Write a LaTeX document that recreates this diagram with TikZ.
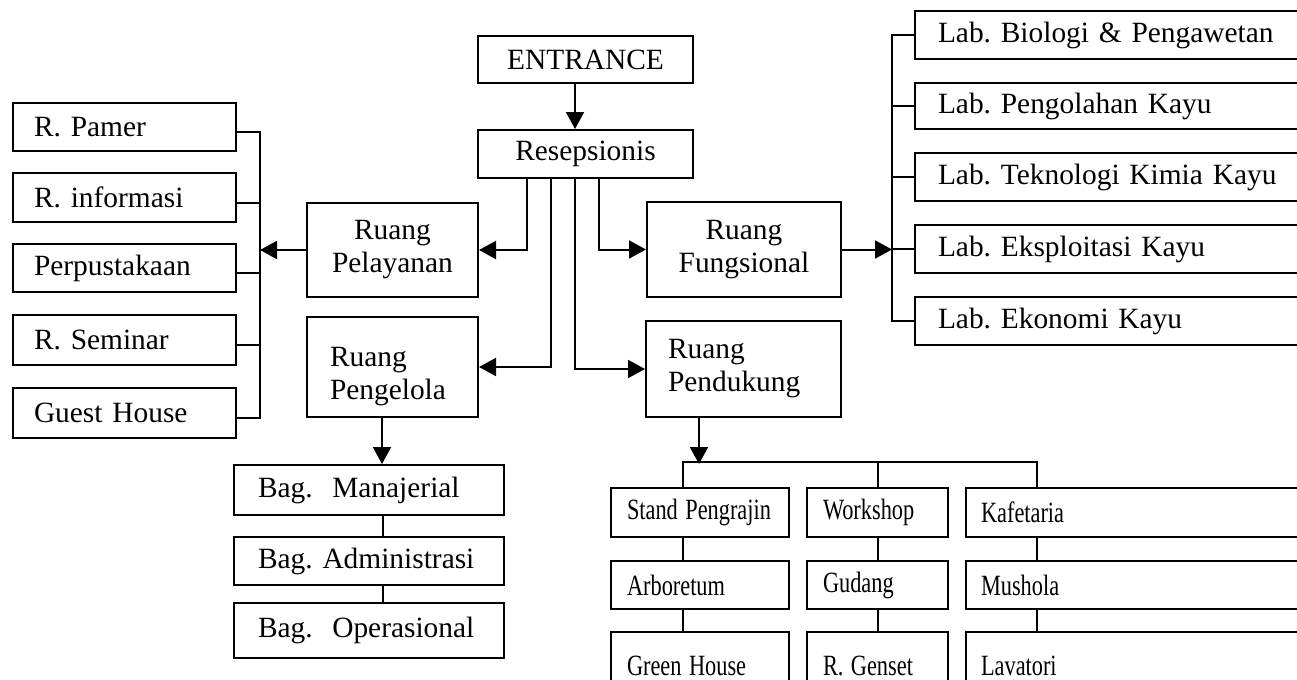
\documentclass[tikz,border=0pt]{standalone}
\usepackage{fontspec}
\usepackage{graphicx}
\setmainfont{Liberation Serif}
\usetikzlibrary{arrows.meta}
\newcommand{\narrowtext}[1]{\scalebox{0.76}[1]{#1}}

\begin{document}
\frenchspacing
\begin{tikzpicture}[
      x=0.5pt, y=-0.5pt,
      font=\fontsize{14.7}{16.5}\selectfont,
      box/.style={draw, line width=1pt, inner sep=0pt, align=center},
      lbox/.style={draw, line width=1pt, anchor=west, align=left, inner ysep=0pt},
      link/.style={line width=1pt},
      flow/.style={-{Triangle[length=8.5pt,width=9pt]}, line width=1pt}
    ]
    \clip (0,0) rectangle (1297,680);

    % --- Entrance and reception -----------------------------------------------
    \node[box, minimum width=107.5pt, minimum height=23.5pt] (entr) at (585.5,59.5)
      {ENTRANCE};
    \node[box, minimum width=107.5pt, minimum height=24pt] (resep) at (585.5,154)
      {Resepsionis};
    \draw[flow] ([xshift=-5.25pt]entr.south) -- ([xshift=-5.25pt]resep.north);

    % --- Main room groups -----------------------------------------------------
    \node[box, minimum width=85.5pt, minimum height=47pt] (pelay) at (392.5,250)
      {Ruang\\Pelayanan};
    \node[box, minimum width=97pt, minimum height=47.5pt] (fungs) at (744,249.5)
      {Ruang\\Fungsional};
    \node[box, align=left, inner xsep=11.5pt, text width=62.5pt, text depth=10pt,
          minimum height=50pt] (pengel) at (392.5,367)
      {Ruang\\Pengelola};
    \node[box, align=left, inner xsep=11pt, text width=75.5pt,
          minimum height=48pt] (penduk) at (743.5,369)
      {Ruang\\Pendukung};

    \draw[flow] ([xshift=-29.25pt]resep.south) |- (pelay.east);
    \draw[flow] ([xshift=-17.25pt]resep.south) |- (pengel.east);
    \draw[flow] ([xshift=-5.25pt]resep.south) |- (penduk.west);
    \draw[flow] ([xshift=6.75pt]resep.south) |- (fungs.west);

    % --- Service rooms (left) -------------------------------------------------
    \node[lbox, inner xsep=10.5pt, text width=90.5pt, minimum height=24pt]
      (pamer) at (12,127) {R. Pamer};
    \node[lbox, inner xsep=10.5pt, text width=90.5pt, minimum height=24.5pt]
      (info) at (12,197.5) {R. informasi};
    \node[lbox, inner xsep=10.5pt, text width=90.5pt, minimum height=24pt]
      (perpus) at (12,268) {Perpustakaan};
    \node[lbox, inner xsep=10.5pt, text width=90.5pt, minimum height=25pt]
      (seminar) at (12,340) {R. Seminar};
    \node[lbox, inner xsep=10.5pt, text width=90.5pt, minimum height=25pt]
      (guest) at (12,413) {Guest House};

    \coordinate (rbus) at ([xshift=11.5pt]perpus.east);
    \draw[link] ([yshift=-2.5pt]pamer.east) -- ++(23,0) |- ([yshift=-2.5pt]guest.east);
    \foreach \b in {info,perpus,seminar}
      \draw[link] ([yshift=-2.5pt]\b.east) -- ++(23,0);
    \draw[flow] (pelay.west) -- (pelay.west -| rbus);

    % --- Laboratories (right) -------------------------------------------------
    \node[lbox, inner xsep=11.5pt, text width=180pt, minimum height=24pt]
      (lab1) at (914,35) {Lab. Biologi \& Pengawetan};
    \node[lbox, inner xsep=11.5pt, text width=180pt, minimum height=23pt]
      (lab2) at (914,106) {Lab. Pengolahan Kayu};
    \node[lbox, inner xsep=11.5pt, text width=180pt, minimum height=24pt]
      (lab3) at (914,177) {Lab. Teknologi Kimia Kayu};
    \node[lbox, inner xsep=11.5pt, text width=180pt, minimum height=24pt]
      (lab4) at (914,249) {Lab. Eksploitasi Kayu};
    \node[lbox, inner xsep=11.5pt, text width=180pt, minimum height=24pt]
      (lab5) at (914,321) {Lab. Ekonomi Kayu};

    \coordinate (lbus) at ([xshift=-11pt]lab4.west);
    \draw[link] (lab1.west) -- ++(-22,0) |- (lab5.west);
    \foreach \i in {2,3,4}
      \draw[link] (lab\i.west) -- ++(-22,0);
    \draw[flow] (fungs.east) -- (fungs.east -| lbus);

    % --- Management sections --------------------------------------------------
    \node[lbox, inner xsep=12pt, text width=111pt, minimum height=25pt]
      (manaj) at (233,490) {Bag.\ \ Manajerial};
    \node[lbox, inner xsep=12pt, text width=111pt, minimum height=24pt]
      (admin) at (233,561) {Bag.\ Administrasi};
    \node[lbox, inner xsep=12pt, text width=111pt, minimum height=27.5pt]
      (oper) at (233,630.5) {Bag.\ \ Operasional};

    \draw[flow] ([xshift=-5.25pt]pengel.south) -- ([xshift=-5.25pt]pengel.south |- manaj.north);
    \draw[link] ([xshift=7pt]manaj.south) -- ([xshift=7pt]admin.north);
    \draw[link] ([xshift=7pt]admin.south) -- ([xshift=7pt]oper.north);

    % --- Support facilities ---------------------------------------------------
    \node[lbox, inner xsep=8pt, text width=73pt, minimum height=24.5pt]
      (stand) at (610,512.5) {\narrowtext{Stand Pengrajin}};
    \node[lbox, inner xsep=8pt, text width=73pt, minimum height=24pt]
      (arbo) at (610,585) {\narrowtext{Arboretum}};
    \node[lbox, inner xsep=8pt, text width=73pt, minimum height=34pt]
      (green) at (610,666) {\narrowtext{Green House}};

    \node[lbox, inner xsep=8pt, text width=54.5pt, minimum height=24.5pt]
      (work) at (806,512.5) {\narrowtext{Workshop}};
    \node[lbox, inner xsep=8pt, text width=54.5pt, minimum height=24pt]
      (gudang) at (806,585) {\narrowtext{Gudang}};
    \node[lbox, inner xsep=8pt, text width=54.5pt, minimum height=34pt]
      (genset) at (806,666) {\narrowtext{R. Genset}};

    \node[lbox, inner xsep=7.5pt, text width=162.5pt, minimum height=24.5pt]
      (kafe) at (965,512.5) {\narrowtext{Kafetaria}};
    \node[lbox, inner xsep=7.5pt, text width=162.5pt, minimum height=24pt]
      (mushola) at (965,585) {\narrowtext{Mushola}};
    \node[lbox, inner xsep=7.5pt, text width=162.5pt, minimum height=34pt]
      (lava) at (965,666) {\narrowtext{Lavatori}};

    \coordinate (pbus) at ([xshift=-22.25pt,yshift=-23pt]penduk.south);
    \draw[flow] ([xshift=-22.25pt]penduk.south) -- (pbus);
    \draw[link] ([xshift=-8.5pt]stand.north) -- ++(0,-25) -| ([xshift=-53.25pt]kafe.north);
    \draw[link] (work.north) -- ++(0,-25);

    \draw[link] ([xshift=-8.5pt]stand.south) -- ([xshift=-8.5pt]arbo.north);
    \draw[link] ([xshift=-8.5pt]arbo.south) -- ([xshift=-8.5pt]green.north);
    \draw[link] (work.south) -- (gudang.north);
    \draw[link] (gudang.south) -- (genset.north);
    \draw[link] ([xshift=-53.25pt]kafe.south) -- ([xshift=-53.25pt]mushola.north);
    \draw[link] ([xshift=-53.25pt]mushola.south) -- ([xshift=-53.25pt]lava.north);
  \end{tikzpicture}
\end{document}
